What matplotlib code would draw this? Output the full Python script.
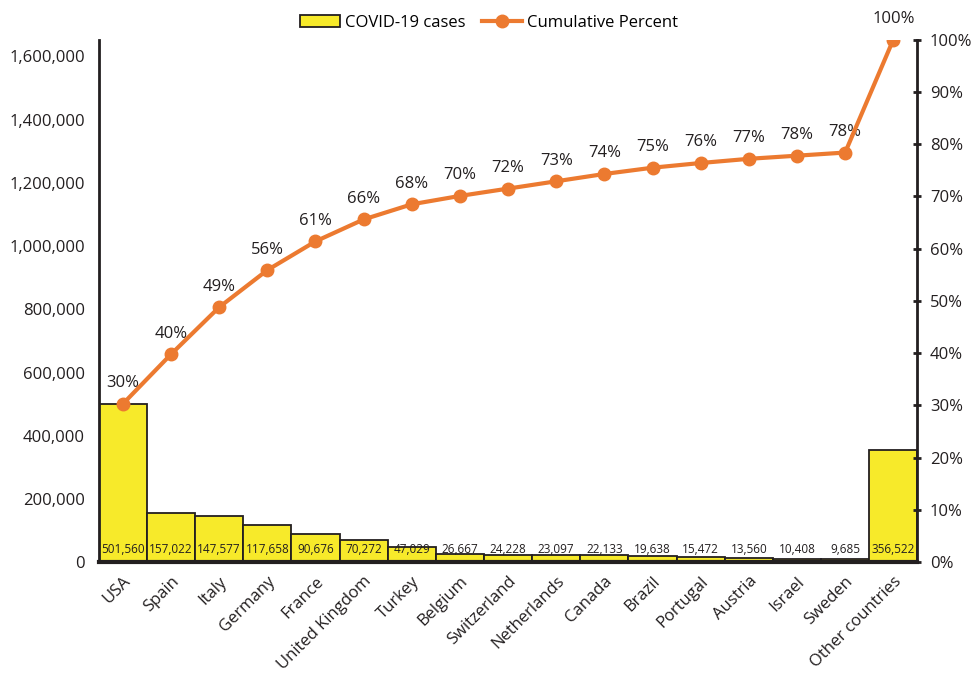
import numpy as np
import matplotlib.pyplot as plt
from matplotlib.ticker import FuncFormatter
from matplotlib.lines import Line2D
from matplotlib.patches import Patch

plt.rcParams['font.family'] = ['Open Sans', 'DejaVu Sans']

countries = ['USA', 'Spain', 'Italy', 'Germany', 'France', 'United Kingdom', 'Turkey',
             'Belgium', 'Switzerland', 'Netherlands', 'Canada', 'Brazil', 'Portugal',
             'Austria', 'Israel', 'Sweden', 'Other countries']
cases = [501560, 157022, 147577, 117658, 90676, 70272, 47029, 26667, 24228,
         23097, 22133, 19638, 15472, 13560, 10408, 9685, 356522]
cum_pct = [30.3, 39.8, 48.8, 55.9, 61.4, 65.6, 68.5, 70.1, 71.5, 72.9,
           74.3, 75.5, 76.4, 77.2, 77.8, 78.4, 100.0]
pct_labels = ['30%', '40%', '49%', '56%', '61%', '66%', '68%', '70%', '72%',
              '73%', '74%', '75%', '76%', '77%', '78%', '78%', '100%']

bar_col = '#f7ea2a'
line_col = '#ec7a30'
ink = '#231f20'

fig = plt.figure(figsize=(9.78, 6.84), dpi=100)
ax = fig.add_axes([0.101, 0.178, 0.837, 0.764])
x = np.arange(len(countries))

ax.bar(x, cases, width=1.0, color=bar_col, edgecolor=ink, linewidth=1.3, zorder=2)
for xi, v in zip(x, cases):
    ax.text(xi, 40000, f'{v:,}', ha='center', va='center', fontsize=8.5,
            color=ink, zorder=3)

ax.set_xlim(-0.5, len(countries) - 0.5)
ax.set_ylim(0, sum(cases))
ax.set_yticks(np.arange(0, 1600001, 200000))
ax.yaxis.set_major_formatter(FuncFormatter(lambda v, p: f'{int(v):,}'))
ax.tick_params(axis='y', length=0, pad=10, labelsize=12, colors=ink)
ax.set_xticks(x)
ax.set_xticklabels(countries, rotation=45, ha='right', rotation_mode='anchor',
                   fontsize=12, color=ink)
ax.tick_params(axis='x', length=0, pad=8)
ax.spines['top'].set_visible(False)
ax.spines['right'].set_visible(False)
ax.spines['left'].set_linewidth(2)
ax.spines['left'].set_color(ink)
ax.spines['bottom'].set_linewidth(3)
ax.spines['bottom'].set_color(ink)

ax2 = ax.twinx()
ax2.plot(x, cum_pct, color=line_col, linewidth=3, marker='o', markersize=9, zorder=4)
for xi, p, lab in zip(x, cum_pct, pct_labels):
    ax2.annotate(lab, (xi, p), xytext=(0, 9), textcoords='offset points',
                 ha='center', va='bottom', fontsize=12, color=ink)
ax2.set_ylim(0, 100)
ax2.set_yticks(np.arange(0, 101, 10))
ax2.yaxis.set_major_formatter(FuncFormatter(lambda v, p: f'{int(v)}%'))
ax2.tick_params(axis='y', direction='inout', length=6, width=2, pad=6,
                labelsize=12, colors=ink)
for s in ['top', 'left', 'bottom']:
    ax2.spines[s].set_visible(False)
ax2.spines['right'].set_linewidth(2)
ax2.spines['right'].set_color(ink)

handles = [Patch(facecolor=bar_col, edgecolor=ink, linewidth=1.3),
           Line2D([0], [0], color=line_col, linewidth=3, marker='o', markersize=9)]
fig.legend(handles, ['COVID-19 cases', 'Cumulative Percent'], loc='center',
           bbox_to_anchor=(0.5, 0.967), ncol=2, frameon=False, fontsize=12,
           handlelength=2.4, columnspacing=1.0, handletextpad=0.3)

fig.savefig('out.png', dpi=100, facecolor='white')
